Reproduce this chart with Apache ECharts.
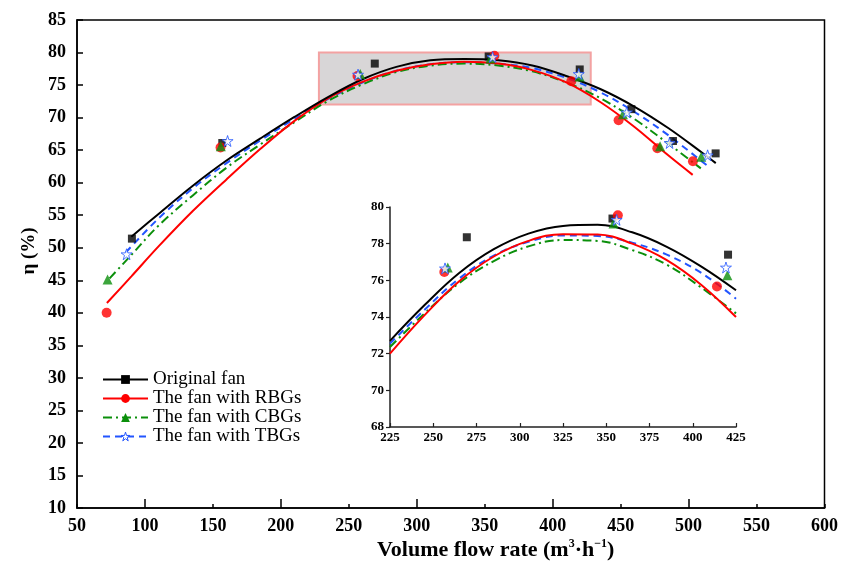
<!DOCTYPE html>
<html><head><meta charset="utf-8">
<script src="https://cdn.jsdelivr.net/npm/echarts@6/dist/echarts.min.js"></script>
<style>html,body{margin:0;padding:0;background:#fff}#c{width:841px;height:565px}</style>
</head><body><div id="c"></div>
<script>
// ---------- data ----------
const seriesNames = ['Original fan', 'The fan with RBGs', 'The fan with CBGs', 'The fan with TBGs'];
const mainXTicks = [50, 600, 50];           // min, max, step
const mainYTicks = [10, 85, 5];
const insetXTicks = [225, 425, 25];
const insetYTicks = [68, 80, 2];
const majorXTicks = [100, 200, 300, 400, 500];
const zoomBoxX = [228, 428];
const zoomBoxY = [72, 80];

// measured points, main chart
const origPts = [[90.4,51.4],[156.9,66.1],[269.1,78.3],[352.9,79.4],[419.9,77.4],[457.9,71.3],[488.5,66.4],[519.9,64.5]];
const rbgPts  = [[71.8,40.0],[155.6,65.4],[256.4,76.4],[357.1,79.5],[413.7,75.6],[448.5,69.6],[477.0,65.3],[503.2,63.3]];
const cbgPts  = [[72.5,45.1],[155.8,65.6],[258.4,76.7],[354.2,79.1],[419.8,76.3],[451.7,70.5],[479.0,65.6],[509.3,64.0]];
const tbgPts  = [[86.5,49.0],[160.8,66.4],[256.8,76.6],[355.8,79.3],[419.2,76.7],[454.5,70.8],[486.0,66.1],[514.0,64.2]];

// fitted curves, main chart
const origFit = [[90,51.7],[110,55.2],[135,59.5],[160,63.4],[185,66.8],[210,70.1],[235,73.2],[260,75.9],[285,77.8],[310,78.8],[335,79.0],[360,78.8],[385,78.0],[410,76.4],[435,74.4],[460,71.7],[485,68.4],[510,64.6],[520,63.0]];
const rbgFit  = [[72,41.5],[90,45.6],[110,50.2],[135,55.6],[160,60.5],[185,65.2],[210,69.5],[235,73.0],[260,75.5],[285,77.2],[310,78.2],[335,78.6],[360,78.3],[385,77.3],[410,75.4],[435,72.4],[460,68.6],[485,64.2],[503,61.2]];
const cbgFit  = [[74,45.3],[90,48.9],[110,53.4],[135,58.0],[160,62.3],[185,65.9],[210,69.3],[235,72.6],[260,75.1],[285,77.0],[310,78.0],[335,78.3],[360,78.0],[385,77.1],[410,75.4],[435,73.0],[460,69.8],[485,66.0],[509,62.2]];
const tbgFit  = [[86,49.3],[110,54.5],[135,59.1],[160,63.0],[185,66.5],[210,69.8],[235,72.9],[260,75.4],[285,77.2],[310,78.2],[335,78.5],[360,78.3],[385,77.6],[410,76.1],[435,73.9],[460,70.9],[485,67.3],[515,62.4]];

// inset points
const origIn = [[269.4,78.35],[353.6,79.37],[420.4,77.4]];
const rbgIn  = [[256.4,76.45],[356.7,79.55],[414.0,75.66]];
const cbgIn  = [[258.4,76.7],[354.2,79.1],[420.0,76.28]];
const tbgIn  = [[256.8,76.65],[356.0,79.3],[419.2,76.7]];

// inset curves
const origFitIn = [[225,72.7],[245,74.65],[265,76.4],[285,77.7],[305,78.55],[325,78.97],[345,79.03],[365,78.62],[385,77.83],[405,76.75],[425,75.46]];
const rbgFitIn  = [[225,72.0],[245,74.1],[265,75.95],[285,77.3],[305,78.15],[325,78.52],[345,78.5],[365,78.0],[385,77.1],[405,75.75],[425,74.0]];
const cbgFitIn  = [[225,72.36],[245,74.2],[265,75.85],[285,77.05],[305,77.85],[325,78.2],[345,78.15],[365,77.65],[385,76.85],[405,75.6],[425,74.2]];
const tbgFitIn  = [[225,72.55],[245,74.4],[265,76.1],[285,77.35],[305,78.1],[325,78.45],[345,78.42],[365,78.05],[385,77.4],[405,76.4],[425,75.0]];

// ---------- styling ----------
const FONT = '"Liberation Serif","Times New Roman","DejaVu Serif",serif';
const STAR = 'path://M50,2 L61,36 L97,36 L68,57 L79,92 L50,70 L21,92 L32,57 L3,36 L39,36 Z';
const styles = [
  {color:'#000000', symbol:'rect', size:8, dash:'solid', fill:'#000000'},
  {color:'#ff0000', symbol:'circle', size:10, dash:'solid', fill:'#ff0000'},
  {color:'#0b8f0b', symbol:'triangle', size:10, dash:[9,4,2,4], fill:'#0b8f0b'},
  {color:'#2255ff', symbol:STAR, size:11, dash:[7,5], fill:'#ffffff'}
];
const mainFits = [origFit, rbgFit, cbgFit, tbgFit];
const mainPts = [origPts, rbgPts, cbgPts, tbgPts];
const inFits = [origFitIn, rbgFitIn, cbgFitIn, tbgFitIn];
const inPts = [origIn, rbgIn, cbgIn, tbgIn];

const series = [];
seriesNames.forEach((name, i) => {
  const st = styles[i];
  const itemStyle = {color: st.fill, borderColor: st.color, borderWidth: i === 3 ? 1 : 0};
  const line = {
    type:'line', name, xAxisIndex:0, yAxisIndex:0, data: mainFits[i], smooth:0.35,
    symbol: st.symbol, symbolSize: st.size, showSymbol:false, silent:true,
    lineStyle:{color: st.color, width:2, type: st.dash}, itemStyle, z: 3 + (3 - i)
  };
  if (i === 0) {
    line.markArea = {
      silent:true, z:1,
      itemStyle:{color:'#d8d6d7', opacity:1, borderColor:'#f3a2a2', borderWidth:2},
      data:[[{xAxis: zoomBoxX[0], yAxis: zoomBoxY[1]}, {xAxis: zoomBoxX[1], yAxis: zoomBoxY[0]}]]
    };
  }
  series.push(line);
  series.push({type:'scatter', name, xAxisIndex:0, yAxisIndex:0, data: mainPts[i],
    symbol: st.symbol, symbolSize: st.size, itemStyle, z: 10 + i, silent:true});
  series.push({type:'line', name, xAxisIndex:2, yAxisIndex:1, data: inFits[i], smooth:0.4,
    showSymbol:false, silent:true, lineStyle:{color: st.color, width:2, type: st.dash}, itemStyle, z: 3 + (3 - i)});
  series.push({type:'scatter', name, xAxisIndex:2, yAxisIndex:1, data: inPts[i],
    symbol: st.symbol, symbolSize: st.size, itemStyle, z: 10 + i, silent:true});
});

const lblMain = {fontFamily: FONT, fontWeight:'bold', fontSize:18, color:'#000'};
const lblIn = {fontFamily: FONT, fontWeight:'bold', fontSize:13, color:'#000'};

const legendData = seriesNames.map((name, i) => i === 3
  ? {name, itemStyle:{color:'#ffffff', borderColor: styles[3].color, borderWidth:1}}
  : {name});

const option = {
  backgroundColor:'#ffffff',
  animation:false,
  grid:[
    {left:77, right:16, top:20, bottom:57, show:true, borderColor:'#000', borderWidth:1.5, backgroundColor:'transparent'},
    {left:390, top:207, width:346, height:220, show:false}
  ],
  legend:{
    data: legendData, orient:'vertical', left:97, top:365,
    itemWidth:45, itemHeight:11, itemGap:0, selectedMode:false,
    textStyle:{fontFamily: FONT, fontSize:19, color:'#000', lineHeight:19}
  },
  xAxis:[
    {type:'value', gridIndex:0, min:mainXTicks[0], max:mainXTicks[1], interval:mainXTicks[2],
     axisLine:{lineStyle:{color:'#000', width:1.5}}, axisTick:{inside:true, length:4, lineStyle:{color:'#000', width:1.5}},
     axisLabel:Object.assign({margin:9}, lblMain), splitLine:{show:false}},
    {type:'value', gridIndex:0, min:mainXTicks[0], max:mainXTicks[1], interval:mainXTicks[2], position:'bottom',
     axisLine:{show:false}, axisLabel:{show:false}, splitLine:{show:false},
     axisTick:{show:true, inside:true, length:9, customValues: majorXTicks, lineStyle:{color:'#000', width:1.5}}},
    {type:'value', gridIndex:1, min:insetXTicks[0], max:insetXTicks[1], interval:insetXTicks[2],
     axisLine:{lineStyle:{color:'#222', width:1.5}}, axisTick:{inside:true, length:4, lineStyle:{color:'#222', width:1.2}},
     axisLabel:Object.assign({margin:4}, lblIn), splitLine:{show:false}}
  ],
  yAxis:[
    {type:'value', gridIndex:0, min:mainYTicks[0], max:mainYTicks[1], interval:mainYTicks[2],
     axisLine:{lineStyle:{color:'#000', width:1.5}}, axisTick:{inside:true, length:6, lineStyle:{color:'#000', width:1.5}},
     axisLabel:Object.assign({margin:11}, lblMain), splitLine:{show:false}},
    {type:'value', gridIndex:1, min:insetYTicks[0], max:insetYTicks[1], interval:insetYTicks[2],
     axisLine:{lineStyle:{color:'#222', width:1.5}}, axisTick:{inside:false, length:4, lineStyle:{color:'#222', width:1.2}},
     axisLabel:Object.assign({margin:6}, lblIn), splitLine:{show:false}}
  ],
  graphic:[
    {type:'text', left:377, top:538,
     style:{
       text:'{m|Volume flow rate (m}{s|3}{m|·h}{s|−1}{m|)}',
       rich:{
         m:{fontFamily: FONT, fontWeight:'bold', fontSize:22, color:'#000', lineHeight:25, verticalAlign:'middle'},
         s:{fontFamily: FONT, fontWeight:'bold', fontSize:12, color:'#000', lineHeight:13, verticalAlign:'top'}
       }
     }},
    {type:'text', x:29, y:251, rotation:Math.PI/2,
     style:{text:'η (%)', fontFamily: FONT, fontWeight:'bold', fontSize:19, fill:'#000', align:'center', verticalAlign:'middle'}}
  ],
  series
};
const chart = echarts.init(document.getElementById('c'));
chart.setOption(option);
</script>
</body></html>
